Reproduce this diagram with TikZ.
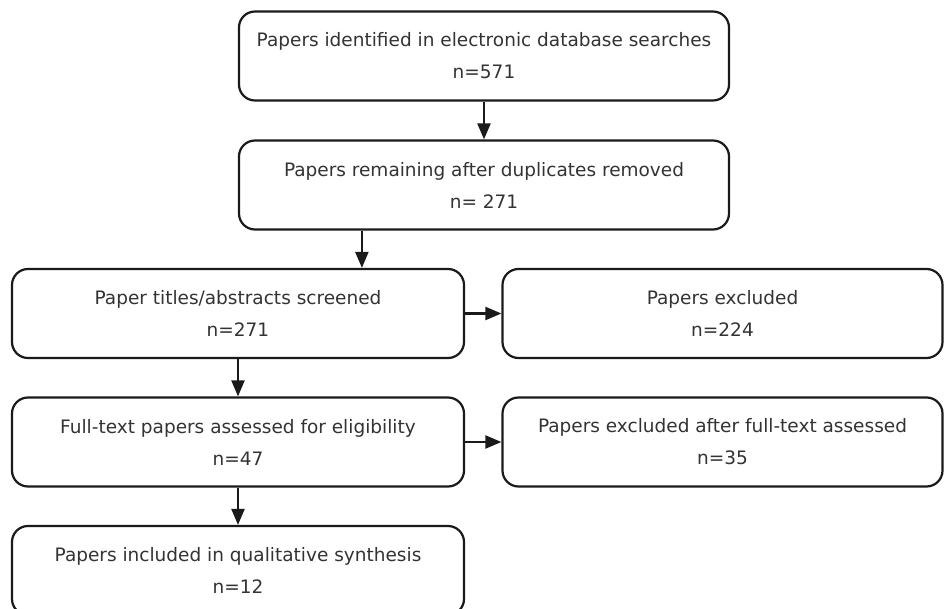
\documentclass[tikz,border=0pt]{standalone}
\usepackage{fontspec}
\setmainfont{DejaVu Sans}
\usepackage{tikz}
\usetikzlibrary{arrows.meta}

\definecolor{boxtext}{HTML}{333333}
\definecolor{boxline}{HTML}{1A1A1A}

\tikzset{
    box/.style={draw=boxline, line width=2.2pt, rounded corners=16pt, align=center,
        text=boxtext, font=\fontsize{18.5}{32}\selectfont, inner sep=0pt},
    wide/.style={box, minimum width=490pt, minimum height=89pt},
    half/.style={box, minimum width=452pt, minimum height=89pt},
    side/.style={box, minimum width=440pt, minimum height=89pt},
    flow/.style={draw=boxline, line width=2.2pt, -{Triangle[length=16pt, width=13pt]}}
}

\begin{document}
\begin{tikzpicture}[x=1pt, y=1pt]
        \useasboundingbox (0, 0) rectangle (944, -609);
        \node[wide] (ident) at (484, -56) {Papers identified in electronic database searches\\n=571};
        \node[wide] (dupl) at (484, -185) {Papers remaining after duplicates removed\\n= 271};
        \node[half] (screen) at (238, -313.5) {Paper titles/abstracts screened\\n=271};
        \node[side] (excl) at (722.5, -313.5) {Papers excluded\\n=224};
        \node[half] (full) at (238, -442) {Full-text papers assessed for eligibility\\n=47};
        \node[side] (exclft) at (722.5, -442) {Papers excluded after full-text assessed\\n=35};
        \node[half] (incl) at (238, -570.5) {Papers included in qualitative synthesis\\n=12};

        \coordinate (split) at ([xshift=124pt]dupl.south west);

        \draw[flow] (ident) -- (dupl);
        \draw[flow] (split) -- (split |- screen.north);
        \draw[flow] (screen) -- (excl);
        \draw[flow] (screen) -- (full);
        \draw[flow] (full) -- (exclft);
        \draw[flow] (full) -- (incl);
    \end{tikzpicture}
\end{document}
